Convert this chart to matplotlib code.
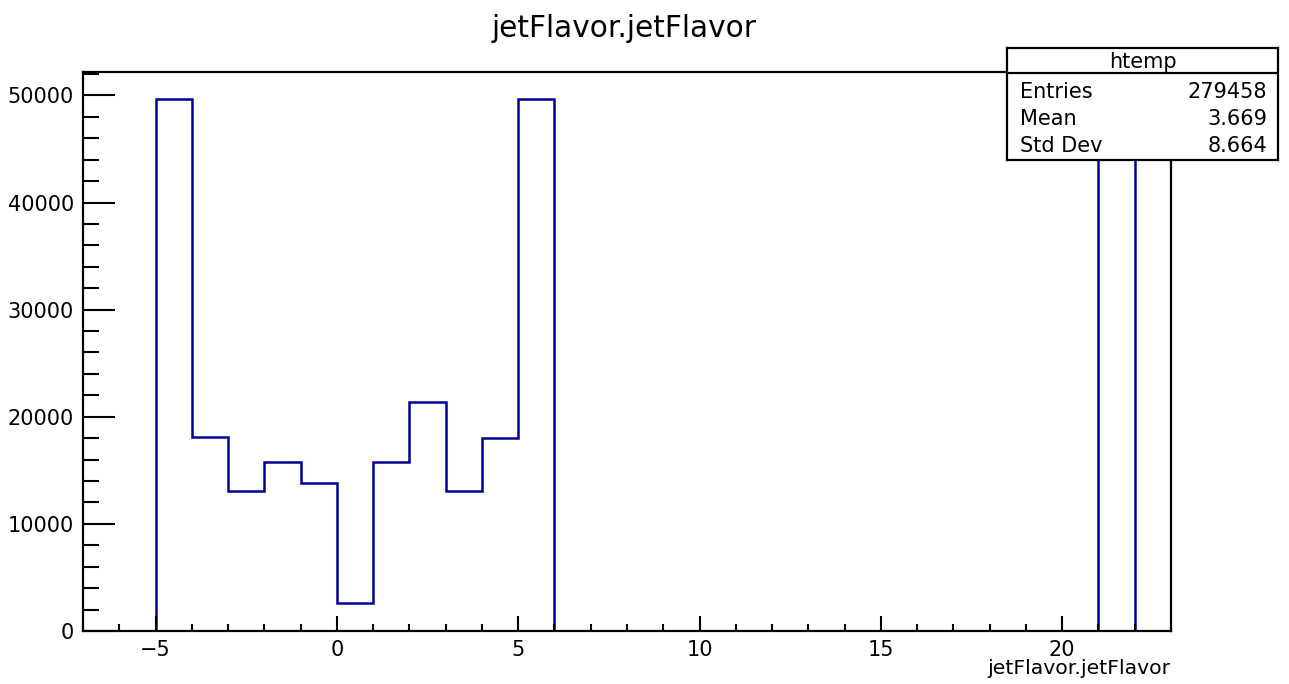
import numpy as np
import matplotlib
matplotlib.use('Agg')
import matplotlib.pyplot as plt
from matplotlib.ticker import MultipleLocator

plt.rcParams['font.family'] = ['DejaVu Sans']

# jet flavour values and their counts
flavors = [-5, -4, -3, -2, -1, 0, 1, 2, 3, 4, 5, 21]
counts = [49700, 18130, 13080, 15790, 13860, 2590, 15770, 21370, 13080, 18040, 49700, 48350]

n_entries = 279458
mean_val = 3.669
std_val = 8.664

edges = np.arange(-6, 23)
hist = np.zeros(len(edges) - 1)
for f, c in zip(flavors, counts):
    hist[np.searchsorted(edges, f, side='right') - 1] += c

W, H = 1289, 684
fig = plt.figure(figsize=(W / 100, H / 100), dpi=100)
ax = fig.add_axes([83 / W, (H - 631) / H, (1171 - 83) / W, (631 - 72) / H])

ax.stairs(hist, edges, color='#000099', lw=1.8)

ax.set_xlim(-7, 23)
ax.set_ylim(0, 1.05 * max(counts))

ax.xaxis.set_major_locator(MultipleLocator(5))
ax.xaxis.set_minor_locator(MultipleLocator(1))
ax.yaxis.set_major_locator(MultipleLocator(10000))
ax.yaxis.set_minor_locator(MultipleLocator(2000))

ax.tick_params(axis='both', which='both', direction='in', width=1.5, colors='black',
               labelsize=15, pad=6.5)
ax.tick_params(axis='x', which='major', length=10.8)
ax.tick_params(axis='x', which='minor', length=5)
ax.tick_params(axis='y', which='major', length=23)
ax.tick_params(axis='y', which='minor', length=11.5)
for s in ax.spines.values():
    s.set_linewidth(1.6)

fig.text(624 / W, (H - 37) / H, 'jetFlavor.jetFlavor', ha='center', va='baseline', fontsize=21.3)
fig.text(1170 / W, (H - 659) / H, 'jetFlavor.jetFlavor', ha='right', va='top', fontsize=14.7)

# stats box
bx0, bx1, by0, by1 = 1007, 1278, 48, 160
sb = fig.add_axes([bx0 / W, (H - by1) / H, (bx1 - bx0) / W, (by1 - by0) / H])
sb.set_xlim(bx0, bx1)
sb.set_ylim(by1, by0)
sb.set_xticks([])
sb.set_yticks([])
sb.set_facecolor('white')
for s in sb.spines.values():
    s.set_linewidth(1.6)
sb.plot([bx0, bx1], [73, 73], color='black', lw=1.6)
sb.text((bx0 + bx1) / 2, 68, 'htemp', ha='center', va='baseline', fontsize=15)
rows = [('Entries', f'{n_entries}', 98), ('Mean', f'{mean_val:.3f}', 125), ('Std Dev', f'{std_val:.3f}', 152)]
for name, val, yb in rows:
    sb.text(1020, yb, name, ha='left', va='baseline', fontsize=15)
    sb.text(1267, yb, val, ha='right', va='baseline', fontsize=15)

fig.savefig('out.png', dpi=100)
